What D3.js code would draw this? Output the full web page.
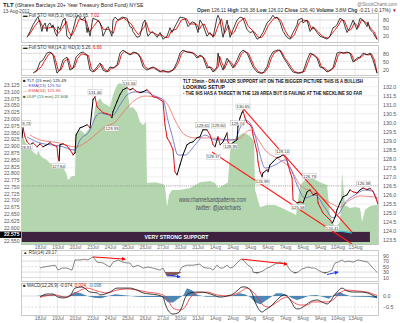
<!DOCTYPE html>
<html><head><meta charset="utf-8">
<script src="https://cdn.jsdelivr.net/npm/d3@7"></script>
<style>body{margin:0;background:#fff}svg{display:block}text{font-family:"Liberation Sans",Arial,sans-serif}</style>
</head><body><svg id="c" width="400" height="323"></svg>
<script>
// ---------- DATA ----------
const dayLabels = ["18Jul","19Jul","20Jul","23Jul","24Jul","25Jul","26Jul","27Jul","30Jul","31Jul","1Aug","2Aug","3Aug","6Aug","7Aug","8Aug","9Aug","10Aug","13Aug"];
const priceTicks = [132.0,131.5,131.0,130.5,130.0,129.5,129.0,128.5,128.0,127.5,127.0,126.5,126.0,125.5,125.0,124.5,124.0,123.5];
const uupTicks = [23.125,23.100,23.075,23.050,23.025,23.000,22.975,22.950,22.925,22.900,22.875,22.850,22.825,22.800,22.775,22.750,22.725,22.700,22.675,22.650,22.625,22.600,22.575,22.550];
const stoTicks = [80,50,20];
const rsiTicks = [90,70,50,30,10];
const macdTicks = [0.0,-0.5];

// TLT 15-min close path [day, price]
const tltPrice = [[-1.03,129.17],[-0.97,129.72],[-0.86,129.22],[-0.74,128.94],[-0.57,128.78],[-0.4,128.89],[-0.17,128.67],[0,128.83],[0.17,128.67],[0.4,128.78],[0.57,128.89],[0.74,128.78],[0.97,128.67],[1.03,128.11],[1.09,127.89],[1.14,128.78],[1.31,128.83],[1.54,128.72],[1.71,128.5],[1.83,128.33],[1.89,128.22],[2.0,128.33],[2.06,129.33],[2.29,129.72],[2.46,129.78],[2.69,129.89],[2.86,129.72],[3.03,131.28],[3.14,131.44],[3.26,130.89],[3.43,130.72],[3.6,130.56],[3.83,130.5],[4.0,130.44],[4.11,130.28],[4.17,130.61],[4.4,131.17],[4.57,131.56],[4.74,131.83],[4.97,131.94],[5.14,131.83],[5.31,131.9],[5.54,131.72],[5.71,131.67],[5.89,131.72],[6.11,131.83],[6.29,131.67],[6.46,131.44],[6.69,131.39],[6.86,131.28],[7.03,131.17],[7.14,129.89],[7.26,129.17],[7.43,128.89],[7.6,128.5],[7.71,127.28],[7.83,127.11],[8.0,127.67],[8.17,128.22],[8.4,128.78],[8.57,128.89],[8.74,128.94],[8.97,129.17],[9.14,129.22],[9.31,129.61],[9.54,129.61],[9.71,129.33],[9.89,128.78],[10.0,128.67],[10.17,129.22],[10.29,128.78],[10.46,128.94],[10.69,129.44],[10.74,128.94],[10.86,128.78],[11.03,128.89],[11.26,129.06],[11.31,129.78],[11.43,130.28],[11.54,130.56],[11.6,130.67],[11.71,130.28],[11.83,130.0],[12.0,129.89],[12.11,129.72],[12.17,129.33],[12.4,128.39],[12.46,127.83],[12.57,127.28],[12.69,127.0],[12.74,127.22],[12.97,127.39],[13.03,127.28],[13.14,127.67],[13.31,127.83],[13.54,128.06],[13.71,128.11],[13.89,128.22],[14.11,127.94],[14.17,127.67],[14.29,127.28],[14.4,126.94],[14.46,125.72],[14.69,125.56],[14.86,125.61],[15.03,125.56],[15.26,126.17],[15.43,126.28],[15.6,126.0],[15.83,126.11],[15.89,125.56],[16.0,125.33],[16.17,125.0],[16.4,124.78],[16.57,124.61],[16.69,124.44],[16.74,124.5],[16.86,124.78],[16.97,125.17],[17.14,125.56],[17.31,125.89],[17.54,126.0],[17.71,126.28],[17.89,126.17],[18.11,126.11],[18.29,126.28],[18.46,126.38],[18.69,126.3],[18.86,126.35],[19.03,126.2],[19.2,125.8],[19.31,125.49]];
const ema13 = [[-0.74,129.21],[0,128.88],[1.14,128.71],[2.0,128.49],[2.29,129.05],[2.86,129.6],[3.14,130.26],[3.43,130.54],[4.0,130.43],[4.17,130.43],[4.57,130.99],[4.97,131.54],[5.43,131.71],[6.0,131.71],[6.57,131.48],[7.03,131.26],[7.31,130.15],[7.54,129.32],[7.89,128.21],[8.29,128.21],[8.86,128.77],[9.43,129.32],[10.0,129.05],[10.57,129.05],[11.14,129.05],[11.43,129.71],[11.71,130.15],[12.0,129.99],[12.29,129.32],[12.57,128.21],[12.86,127.49],[13.43,127.66],[14.0,127.94],[14.29,127.55],[14.69,126.55],[15.14,125.83],[15.71,126.0],[16.29,125.28],[16.74,124.73],[17.14,125.06],[17.43,125.56],[18.0,126.0],[18.57,126.27],[19.0,126.2],[19.31,125.5]];
const ema34 = [[-0.57,129.32],[0,129.05],[1.14,128.88],[2.0,128.66],[2.57,128.88],[3.14,129.32],[3.71,129.77],[4.29,130.04],[4.86,130.71],[5.43,131.26],[6.0,131.48],[6.86,131.37],[7.31,130.99],[7.71,130.15],[8.29,129.32],[8.86,129.16],[9.71,129.16],[10.86,129.05],[11.43,129.16],[12.0,129.6],[12.4,129.16],[12.86,128.49],[13.71,127.94],[14.29,127.49],[14.86,126.55],[15.71,126.11],[16.57,125.56],[17.14,125.33],[17.71,125.72],[18.29,125.94],[19.31,125.86]];
// UUP 15-min (green area), left scale
const uup = [[-1.03,22.952],[-0.86,22.915],[-0.57,22.893],[-0.4,22.878],[-0.17,22.867],[-0.11,22.885],[0,22.867],[0.17,22.856],[0.4,22.849],[0.57,22.837],[0.86,22.826],[1.14,22.83],[1.31,22.823],[1.49,22.801],[1.6,22.775],[1.83,22.79],[2.0,22.79],[2.06,22.948],[2.29,22.959],[2.57,22.944],[2.74,22.959],[2.97,22.974],[3.03,22.985],[3.14,23.04],[3.26,23.062],[3.43,23.077],[3.6,23.059],[3.83,23.051],[4.0,23.044],[4.17,23.088],[4.4,23.125],[4.57,23.132],[4.74,23.125],[4.97,23.136],[5.03,23.088],[5.14,23.04],[5.31,23.044],[5.54,23.025],[5.71,22.989],[5.89,22.978],[6.06,22.989],[6.11,22.764],[6.57,22.767],[7.03,22.76],[7.14,22.753],[7.26,22.675],[7.37,22.72],[7.54,22.738],[8.0,22.738],[8.57,22.745],[9.14,22.767],[9.71,22.771],[10.0,22.764],[10.17,22.745],[10.4,22.753],[10.74,22.767],[10.86,22.878],[10.97,22.915],[11.26,22.933],[11.6,22.948],[11.83,22.944],[12.11,22.93],[12.23,22.915],[12.29,22.738],[12.57,22.675],[12.97,22.683],[13.43,22.683],[13.83,22.672],[14.29,22.657],[14.63,22.646],[14.86,22.756],[15.14,22.775],[15.54,22.782],[16.0,22.767],[16.4,22.756],[16.57,22.646],[16.86,22.598],[17.14,22.62],[17.26,22.804],[17.43,22.683],[17.71,22.672],[18.0,22.675],[18.29,22.672],[18.4,22.62],[18.57,22.664],[18.86,22.679],[19.14,22.683],[19.31,22.683]];
// price point labels [day, text, "h"=above high / "l"=below low]
const priceLabels = [[-0.92,"129.73","h"],[-0.85,"128.91","l"],[1.05,"127.84","l"],[3.14,"131.46","h"],[4.11,"129.93","l"],[5.1,"131.94","h"],[9.3,"129.61","h"],[10.2,"129.60","h"],[9.9,"128.37","l"],[11.3,"129.74","h"],[11.6,"130.65","h"],[10.9,"128.95","l"],[13.85,"128.14","h"],[12.7,"126.99","l"],[15.4,"126.79","h"],[14.75,"125.58","l"],[16.7,"124.41","l"],[18.5,"126.38","h"]];
// trend lines [day, price]
const upperTrend = [[11.54,130.87],[17.83,123.94]];
const lowerTrend = [[9.83,128.38],[17.83,123.28]];
const cyanLine = [[16.74,124.05],[17.83,123.89]];
const supportBand = [123.39,123.95];

// Full STO (5,3)
const sto5K = [[-0.74,15],[-0.57,37],[-0.4,62],[-0.17,87],[-0.11,91],[0,69],[0.11,37],[0.17,55],[0.29,69],[0.4,37],[0.46,62],[0.57,69],[0.69,51],[0.74,62],[0.86,33],[0.97,19],[1.03,55],[1.14,44],[1.31,80],[1.43,87],[1.54,19],[1.71,8],[1.89,44],[2.06,87],[2.17,98],[2.4,80],[2.57,91],[2.69,33],[2.74,51],[2.86,19],[2.97,69],[3.03,87],[3.26,80],[3.43,69],[3.54,44],[3.6,19],[3.83,51],[3.89,55],[4.0,37],[4.11,19],[4.17,80],[4.29,91],[4.46,80],[4.69,91],[4.97,87],[5.14,55],[5.26,51],[5.31,37],[5.54,15],[5.71,19],[5.89,69],[6.0,80],[6.11,33],[6.17,19],[6.4,37],[6.57,26],[6.69,15],[6.86,33],[7.03,8],[7.26,19],[7.43,51],[7.54,33],[7.71,55],[8.0,91],[8.29,87],[8.46,55],[8.69,73],[8.86,69],[9.03,33],[9.14,80],[9.31,62],[9.54,19],[9.71,33],[9.89,15],[10.11,87],[10.17,98],[10.29,80],[10.4,33],[10.46,15],[10.69,80],[10.86,15],[11.03,44],[11.26,80],[11.43,91],[11.6,87],[11.83,44],[12.0,33],[12.17,37],[12.4,8],[12.57,15],[12.74,33],[12.97,69],[13.14,80],[13.31,98],[13.43,87],[13.54,91],[13.71,73],[13.89,37],[14.11,15],[14.29,8],[14.46,33],[14.69,62],[14.74,80],[14.97,87],[15.03,69],[15.26,80],[15.43,37],[15.6,55],[15.83,33],[16.0,19],[16.17,15],[16.4,8],[16.57,19],[16.74,51],[16.86,55],[16.97,62],[17.14,87],[17.31,80],[17.54,33],[17.71,51],[17.89,80],[18.11,44],[18.29,87],[18.46,80],[18.69,55],[18.74,73],[18.86,44],[18.97,37],[19.03,33],[19.14,19],[19.26,7]];
const sto5D = [[-0.66,20],[-0.32,55],[-0.03,80],[0.19,50],[0.48,50],[0.77,55],[1.05,30],[1.22,45],[1.51,75],[1.62,40],[1.79,20],[1.97,40],[2.25,85],[2.65,75],[2.82,35],[3.05,55],[3.34,80],[3.62,45],[3.91,45],[4.19,30],[4.37,75],[4.77,88],[5.22,65],[5.39,45],[5.62,25],[5.97,55],[6.08,70],[6.25,35],[6.48,32],[6.77,22],[6.94,25],[7.11,15],[7.34,15],[7.51,40],[7.79,45],[8.08,80],[8.37,85],[8.54,65],[8.94,65],[9.11,45],[9.22,60],[9.39,65],[9.62,30],[9.97,20],[10.19,60],[10.37,85],[10.54,30],[10.77,60],[10.94,25],[11.11,35],[11.34,70],[11.68,88],[11.91,55],[12.25,35],[12.48,15],[12.65,14],[12.82,28],[13.05,60],[13.39,88],[13.62,88],[13.79,75],[13.97,45],[14.19,20],[14.37,12],[14.54,25],[14.82,70],[15.05,80],[15.34,75],[15.51,45],[15.68,50],[15.91,35],[16.08,22],[16.25,15],[16.48,12],[16.82,40],[17.05,60],[17.22,80],[17.39,78],[17.62,40],[17.79,45],[17.97,70],[18.19,52],[18.37,80],[18.54,75],[18.77,62],[18.94,45],[19.11,35],[19.26,7]];
// Full STO (14,3)
const sto14K = [[-0.4,6],[-0.17,17],[0,47],[0.17,55],[0.4,81],[0.57,85],[0.74,74],[0.97,6],[1.14,17],[1.31,55],[1.54,66],[1.71,17],[1.89,25],[2.06,66],[2.29,81],[2.46,85],[2.69,74],[2.86,17],[3.03,10],[3.26,29],[3.43,44],[3.6,17],[3.83,10],[4.0,29],[4.17,25],[4.4,36],[4.57,81],[4.74,92],[4.97,81],[5.14,74],[5.31,85],[5.54,81],[5.71,66],[5.89,29],[6.11,17],[6.29,25],[6.46,29],[6.69,17],[6.86,10],[7.03,17],[7.26,10],[7.43,10],[7.6,17],[7.83,47],[8.0,81],[8.17,92],[8.4,85],[8.57,85],[8.74,81],[8.97,62],[9.14,74],[9.31,66],[9.54,25],[9.71,29],[9.89,10],[10.11,29],[10.17,81],[10.29,44],[10.46,17],[10.69,62],[10.86,44],[11.03,25],[11.26,55],[11.43,81],[11.6,92],[11.83,81],[12.0,55],[12.17,29],[12.4,10],[12.57,6],[12.74,6],[12.97,29],[13.14,66],[13.31,85],[13.54,92],[13.71,92],[13.89,66],[14.11,44],[14.29,25],[14.46,10],[14.69,6],[14.86,6],[15.03,10],[15.26,55],[15.43,81],[15.6,74],[15.83,62],[16.0,29],[16.17,25],[16.4,10],[16.57,17],[16.74,25],[16.97,81],[17.14,85],[17.31,81],[17.54,85],[17.71,81],[17.89,47],[18.11,62],[18.29,66],[18.46,81],[18.69,74],[18.86,81],[19.03,55],[19.26,5]];
const sto14D = [[-0.3,8],[0.08,30],[0.25,50],[0.48,75],[0.65,83],[0.82,70],[1.05,15],[1.22,20],[1.39,50],[1.62,60],[1.79,22],[1.97,28],[2.14,60],[2.37,78],[2.77,72],[2.94,22],[3.11,12],[3.34,27],[3.51,40],[3.68,20],[3.91,12],[4.08,25],[4.25,26],[4.48,38],[4.65,75],[4.82,88],[5.05,80],[5.22,76],[5.39,82],[5.62,78],[5.79,62],[5.97,32],[6.19,20],[6.37,24],[6.54,27],[6.77,18],[6.94,11],[7.34,11],[7.68,20],[7.91,45],[8.08,78],[8.25,88],[8.48,84],[8.82,80],[9.05,65],[9.22,70],[9.39,62],[9.62,28],[9.79,28],[9.97,13],[10.19,30],[10.26,70],[10.37,48],[10.54,22],[10.77,55],[10.94,45],[11.11,28],[11.34,52],[11.51,78],[11.68,88],[11.91,80],[12.08,55],[12.25,30],[12.48,12],[12.65,7],[12.82,8],[13.05,28],[13.22,62],[13.39,82],[13.62,90],[13.79,88],[13.97,65],[14.19,45],[14.37,26],[14.54,12],[14.77,7],[15.11,12],[15.34,50],[15.51,78],[15.68,74],[15.91,60],[16.08,30],[16.25,25],[16.48,12],[16.65,18],[16.82,28],[17.05,75],[17.22,83],[17.39,80],[17.62,83],[17.79,78],[17.97,50],[18.19,60],[18.37,66],[18.54,78],[18.77,74],[18.94,78],[19.11,55],[19.26,7]];
// RSI(14)
const rsi = [[0,44.5],[0.17,48],[0.57,52],[0.86,55],[1.03,37],[1.26,44.5],[1.54,44.5],[1.83,37],[2.0,74],[2.29,74],[2.57,77],[2.74,74],[3.03,85],[3.26,66],[3.6,63],[4.0,48],[4.17,66],[4.46,74],[4.74,66],[4.97,63],[5.14,63],[5.31,48],[5.6,55],[5.89,44.5],[6.17,48],[6.46,44.5],[6.86,37],[7.03,44.5],[7.14,30],[7.26,15.5],[7.6,15.5],[7.89,23],[8.11,48],[8.4,55],[8.74,55],[9.14,59],[9.31,48],[9.54,44.5],[9.71,44.5],[9.89,37],[10.11,55],[10.29,44.5],[10.46,44.5],[10.69,55],[10.86,44.5],[11.03,48],[11.26,63],[11.43,74],[11.54,77],[11.71,66],[11.89,55],[12.11,44.5],[12.17,30],[12.4,26],[12.57,30],[12.74,34],[12.97,44.5],[13.14,48],[13.31,55],[13.54,63],[13.71,66],[13.89,63],[14.11,55],[14.29,37],[14.46,30],[14.57,26],[14.74,30],[14.97,41],[15.14,44.5],[15.31,48],[15.54,44.5],[15.71,44.5],[15.89,37],[16.11,30],[16.29,26],[16.46,30],[16.69,37],[16.74,48],[16.86,63],[17.03,66],[17.26,74],[17.43,66],[17.6,70],[17.89,66],[18.17,74],[18.46,70],[18.74,66],[18.97,48],[19.14,37],[19.26,29]];
const rsiRedArrows = [[[3.03,85],[4.86,77]],[[11.54,77],[14.11,59]]];
const rsiBlueArrows = [[[7.31,19],[8.0,12]],[[16.4,21],[17.03,30]]];
// MACD(12,26,9)
const macdLine = [[0,-0.05],[0.4,0.09],[0.74,0.09],[1.03,-0.05],[1.31,-0.09],[1.71,0],[2.0,0.36],[2.4,0.41],[2.86,0.18],[3.26,0.14],[3.43,0.05],[4.0,0.18],[4.4,0.36],[4.74,0.36],[5.14,0.36],[5.54,0.27],[5.89,0.14],[6.29,0.09],[6.69,0.05],[7.03,-0.05],[7.14,-0.32],[7.31,-0.64],[7.6,-0.82],[7.89,-0.77],[8.11,-0.5],[8.29,-0.09],[8.57,0.14],[8.97,0.18],[9.14,0.18],[9.54,0.14],[9.89,0.05],[10.29,-0.05],[10.69,0],[11.03,0.09],[11.31,0.27],[11.54,0.41],[11.71,0.41],[11.89,0.36],[12.11,0.14],[12.29,-0.27],[12.46,-0.55],[12.69,-0.73],[12.86,-0.64],[13.14,-0.5],[13.43,-0.27],[13.71,-0.05],[14.0,0.05],[14.17,-0.05],[14.4,-0.32],[14.57,-0.55],[14.74,-0.59],[15.03,-0.5],[15.43,-0.27],[15.83,-0.18],[16.11,-0.27],[16.4,-0.36],[16.57,-0.27],[16.74,-0.05],[16.97,0.18],[17.26,0.36],[17.54,0.23],[17.89,0.18],[18.29,0.18],[18.69,0.14],[18.97,0.05],[19.26,-0.07]];
const macdSignal = [[0,-0.05],[0.29,0],[0.86,0.05],[1.43,-0.05],[2.11,0.18],[2.69,0.36],[3.26,0.23],[3.83,0.14],[4.4,0.27],[4.97,0.32],[5.54,0.27],[6.11,0.18],[6.86,0.09],[7.26,-0.09],[7.6,-0.55],[8.0,-0.64],[8.29,-0.5],[8.57,-0.09],[8.97,0.14],[9.54,0.18],[10.11,0.05],[10.69,0],[11.43,0.18],[11.83,0.36],[12.17,0.18],[12.46,-0.09],[12.74,-0.41],[13.03,-0.5],[13.31,-0.41],[13.71,-0.18],[14.11,-0.05],[14.46,-0.27],[14.86,-0.41],[15.26,-0.41],[15.6,-0.27],[16.0,-0.27],[16.4,-0.27],[16.74,-0.18],[17.14,0.14],[17.54,0.27],[18.11,0.23],[18.69,0.18],[19.26,0.02]];
const macdHist = [[-0.2,0],[0.3,0.05],[0.8,0.03],[1.2,-0.05],[1.6,0],[2.0,0.18],[2.3,0.14],[2.7,0],[3.1,-0.08],[3.5,-0.1],[3.9,0],[4.3,0.08],[4.7,0.05],[5.2,0],[5.6,-0.03],[6.0,-0.05],[6.5,-0.04],[7.0,-0.05],[7.3,-0.28],[7.6,-0.3],[7.9,-0.12],[8.2,0.05],[8.4,0.35],[8.7,0.25],[9.0,0.05],[9.5,-0.03],[10.0,-0.03],[10.5,0],[11.0,0.02],[11.4,0.12],[11.7,0.08],[12.0,-0.05],[12.3,-0.3],[12.6,-0.38],[12.9,-0.2],[13.2,-0.05],[13.5,0.12],[13.8,0.12],[14.1,0.05],[14.4,-0.1],[14.7,-0.18],[15.0,-0.1],[15.4,0.02],[15.8,0.05],[16.2,-0.05],[16.5,-0.12],[16.8,0.05],[17.1,0.18],[17.4,0.08],[17.8,-0.02],[18.3,-0.03],[18.8,-0.04],[19.26,-0.1]];

// ---------- LAYOUT ----------
const L = 21, R = 379;
const svg = d3.select("#c");
const x = d3.scaleLinear().domain([-1.086, 19.37]).range([L, R]);
const P = {
  sto1: {top: 13, bottom: 43},
  sto2: {top: 45, bottom: 76},
  main: {top: 77, bottom: 245},
  rsi: {top: 250, bottom: 282},
  macd: {top: 283, bottom: 316}
};
const ySto1 = d3.scaleLinear().domain([0, 100]).range([41.3, 14.7]);
const ySto2 = d3.scaleLinear().domain([0, 100]).range([74.7, 48]);
const yP = d3.scaleLinear().domain([123.5, 132]).range([240, 86.7]);
const yU = d3.scaleLinear().domain([22.55, 23.125]).range([241, 85]);
const yR = d3.scaleLinear().domain([0, 100]).range([280.3, 252.8]);
const yM = d3.scaleLinear().domain([-1, 1]).range([318, 274]);

const GRID = "#e2e2e2", BORDER = "#bdbdbd";
function panel(name) {
  const p = P[name];
  svg.append("rect").attr("x", L).attr("y", p.top).attr("width", R - L).attr("height", p.bottom - p.top)
    .attr("fill", "#fff");
  svg.append("clipPath").attr("id", "cl-" + name).append("rect")
    .attr("x", L).attr("y", p.top).attr("width", R - L).attr("height", p.bottom - p.top);
  const g = svg.append("g").attr("clip-path", `url(#cl-${name})`);
  return g;
}
function border(name) {
  const p = P[name];
  svg.append("rect").attr("x", L + 0.5).attr("y", p.top + 0.5).attr("width", R - L - 1).attr("height", p.bottom - p.top - 1)
    .attr("fill", "none").attr("stroke", BORDER).attr("stroke-width", 0.8);
}
function vgrid(g, name) {
  const p = P[name];
  g.selectAll(null).data(dayLabels).join("line")
    .attr("x1", (d, i) => x(i)).attr("x2", (d, i) => x(i)).attr("y1", p.top).attr("y2", p.bottom)
    .attr("stroke", GRID).attr("stroke-width", 0.7);
}
function hgrid(g, ys, dash) {
  g.selectAll(null).data(ys).join("line")
    .attr("x1", L).attr("x2", R).attr("y1", d => d).attr("y2", d => d)
    .attr("stroke", "#cfcfcf").attr("stroke-width", 0.7).attr("stroke-dasharray", dash || null);
}
function rightAxis(scale, ticks, fmt) {
  const g = svg.append("g").attr("transform", `translate(${R},0)`)
    .call(d3.axisRight(scale).tickValues(ticks).tickFormat(fmt).tickSize(0).tickPadding(4));
  g.select(".domain").remove();
  g.selectAll("text").attr("font-size", 5.3).attr("fill", "#555").attr("font-family", "Liberation Sans, Arial");
  return g;
}
const line = (sx, sy) => d3.line().x(d => sx(d[0])).y(d => sy(d[1]));

// ---------- HEADER ----------
svg.append("text").attr("x", 3).attr("y", 7).attr("font-size", 5.2).attr("fill", "#222")
  .html('<tspan font-weight="bold" font-size="6">TLT</tspan> (iShares Barclays 20+ Year Treasury Bond Fund) NYSE');
svg.append("text").attr("x", 3).attr("y", 13).attr("font-size", 4.6).attr("fill", "#444").text("13-Aug-2012");
svg.append("text").attr("x", 397).attr("y", 6).attr("font-size", 4.6).attr("fill", "#777").attr("text-anchor", "end").text("@StockCharts.com");
svg.append("text").attr("x", 397).attr("y", 12).attr("font-size", 4.6).attr("fill", "#333").attr("text-anchor", "end")
  .attr("textLength", 200).attr("lengthAdjust", "spacingAndGlyphs")
  .html('<tspan font-weight="bold">Open</tspan> 126.11 <tspan font-weight="bold">High</tspan> 126.38 <tspan font-weight="bold">Low</tspan> 126.02 <tspan font-weight="bold">Close</tspan> 126.40 <tspan font-weight="bold">Volume</tspan> 3.8M <tspan font-weight="bold">Chg</tspan> -0.21 (-0.17%) <tspan fill="#c00">▼</tspan>');

// ---------- STO panels ----------
function stoPanel(name, ys, K, D, legend, v1, v2) {
  const g = panel(name);
  vgrid(g, name);
  hgrid(g, [ys(80), ys(20)]);
  hgrid(g, [ys(50)], "2,1.5");
  g.append("path").datum(D).attr("d", line(x, ys)).attr("fill", "none").attr("stroke", "#e8201a").attr("stroke-width", 1);
  g.append("path").datum(K).attr("d", line(x, ys)).attr("fill", "none").attr("stroke", "#111").attr("stroke-width", 0.8);
  border(name);
  rightAxis(ys, stoTicks, d3.format("d"));
  const t = svg.append("text").attr("x", L + 2).attr("y", P[name].top + 4.3).attr("font-size", 4.5).attr("fill", "#333");
  t.append("tspan").attr("fill", "#222").text("▬ ");
  t.append("tspan").text(legend + " " + v1 + ", ");
  t.append("tspan").attr("fill", "#e00").text(v2);
}
stoPanel("sto1", ySto1, sto5K, sto5D, "Full STO %K(5,3) %D(3)", "6.65", "7.02");
stoPanel("sto2", ySto2, sto14K, sto14D, "Full STO %K(14,3) %D(3)", "5.26", "6.66");

// ---------- MAIN ----------
const gm = panel("main");
gm.selectAll(null).data(priceTicks).join("line")
  .attr("x1", L).attr("x2", R).attr("y1", d => yP(d)).attr("y2", d => yP(d)).attr("stroke", "#e6e6e6").attr("stroke-width", 0.6);
vgrid(gm, "main");
// UUP area
gm.append("path").datum(uup)
  .attr("d", d3.area().x(d => x(d[0])).y0(P.main.bottom).y1(d => yU(d[1])))
  .attr("fill", "#b4d6ae").attr("stroke", "none");
// dotted reference line
gm.append("line").attr("x1", L).attr("x2", R).attr("y1", yP(126.5)).attr("y2", yP(126.5))
  .attr("stroke", "#777").attr("stroke-width", 0.6).attr("stroke-dasharray", "1,1.2");
// support band
gm.append("rect").attr("x", L).attr("width", x(18.85) - L)
  .attr("y", yP(supportBand[1])).attr("height", yP(supportBand[0]) - yP(supportBand[1]))
  .attr("fill", "#3e2240");
gm.append("text").attr("x", x(7.8)).attr("y", (yP(supportBand[0]) + yP(supportBand[1])) / 2 + 1.8)
  .attr("text-anchor", "middle").attr("font-size", 5.2).attr("font-weight", "bold").attr("fill", "#fff").text("VERY STRONG SUPPORT");
// watermark
gm.append("text").attr("x", 179).attr("y", 202).attr("font-family", "Liberation Serif, DejaVu Serif, serif")
  .attr("font-style", "italic").attr("font-size", 7).attr("fill", "#4a4a5a").attr("textLength", 67).attr("lengthAdjust", "spacingAndGlyphs")
  .text("www.channelsandpatterns.com");
gm.append("text").attr("x", 196).attr("y", 210).attr("font-family", "Liberation Serif, DejaVu Serif, serif")
  .attr("font-style", "italic").attr("font-size", 7).attr("fill", "#4a4a5a").attr("textLength", 45).attr("lengthAdjust", "spacingAndGlyphs")
  .text("twitter: @jackcharts");
// EMAs
gm.append("path").datum(ema34).attr("d", line(x, yP).curve(d3.curveMonotoneX)).attr("fill", "none").attr("stroke", "#f26a6a").attr("stroke-width", 0.8);
gm.append("path").datum(ema13).attr("d", line(x, yP).curve(d3.curveMonotoneX)).attr("fill", "none").attr("stroke", "#5a64c8").attr("stroke-width", 0.8);
// price segments: red falling, black rising
const segs = d3.pairs(tltPrice);
gm.selectAll(null).data(segs).join("line")
  .attr("x1", d => x(d[0][0])).attr("y1", d => yP(d[0][1])).attr("x2", d => x(d[1][0])).attr("y2", d => yP(d[1][1]))
  .attr("stroke", d => d[1][1] < d[0][1] ? "#e0101a" : "#000").attr("stroke-width", 1).attr("stroke-linecap", "round");
// trend lines
gm.append("path").datum(upperTrend).attr("d", line(x, yP)).attr("stroke", "#ff1a1a").attr("stroke-width", 1.1).attr("fill", "none");
gm.append("path").datum(lowerTrend).attr("d", line(x, yP)).attr("stroke", "#ff1a1a").attr("stroke-width", 1.1).attr("fill", "none");
gm.append("path").datum(cyanLine).attr("d", line(x, yP)).attr("stroke", "#22c8e0").attr("stroke-width", 1.1).attr("fill", "none");
// price labels
priceLabels.forEach(([t, txt, k]) => {
  const v = parseFloat(txt);
  const w = 14, h = 5;
  const cy = k === "h" ? yP(v) - 4.5 : yP(v) + 4.5;
  gm.append("rect").attr("x", x(t) - w / 2).attr("y", cy - h / 2).attr("width", w).attr("height", h)
    .attr("fill", "#fff").attr("stroke", "#aaa").attr("stroke-width", 0.4);
  gm.append("text").attr("x", x(t)).attr("y", cy + 1.6).attr("text-anchor", "middle").attr("font-size", 4.2).attr("fill", "#333").text(txt);
});
// legend box
const lg = svg.append("g");
lg.append("rect").attr("x", L + 1).attr("y", P.main.top + 1).attr("width", 48).attr("height", 21).attr("fill", "#fff").attr("opacity", 0.85);
const legendRows = [["■ TLT (15 min) 125.49", "#222"], ["— EMA(13) 125.50", "#4a54c0"], ["— EMA(34) 125.86", "#e84a4a"], ["■ UUP (15 min) 22.608", "#3d6a3a"]];
lg.selectAll(null).data(legendRows).join("text")
  .attr("x", L + 2).attr("y", (d, i) => P.main.top + 5 + i * 5.2).attr("font-size", 4.4).attr("fill", d => d[1]).text(d => d[0]);
// annotation text
const notes = ["TLT 15min - ON A MAJOR SUPPORT HIT ON THE BIGGER PICTURE THIS IS A BULLISH", "LOOKING SETUP", "- THE IHS HAS A TARGET IN THE 129 AREA BUT IS FAILING AT THE NECKLINE SO FAR"];
const noteLen = [180, 42, 179];
svg.selectAll(null).data(notes).join("text")
  .attr("x", 183).attr("y", (d, i) => 82.5 + i * 6.4).attr("font-size", 4.6).attr("font-weight", "bold").attr("fill", "#111")
  .attr("textLength", (d, i) => noteLen[i]).attr("lengthAdjust", "spacingAndGlyphs").text(d => d);
border("main");
rightAxis(yP, priceTicks, d3.format(".1f"));
const la = svg.append("g").attr("transform", `translate(${L},0)`)
  .call(d3.axisLeft(yU).tickValues(uupTicks).tickFormat(d3.format(".3f")).tickSize(0).tickPadding(1.5));
la.select(".domain").remove();
la.selectAll("text").attr("font-size", 5.1).attr("fill", "#555");
la.selectAll(".tick").filter(d => Math.abs(d - 22.575) < 1e-6).each(function () {
  const tk = d3.select(this);
  tk.insert("rect", "text").attr("x", -L).attr("y", -3.2).attr("width", L).attr("height", 6.4).attr("fill", "#000");
  tk.select("text").attr("fill", "#fff").attr("font-weight", "bold");
});

// date strips
function dateAxis(yy) {
  const g = svg.append("g").attr("transform", `translate(0,${yy})`)
    .call(d3.axisBottom(x).tickValues(d3.range(dayLabels.length)).tickFormat(i => dayLabels[i]).tickSize(0).tickPadding(0));
  g.select(".domain").remove();
  g.selectAll("text").attr("font-size", 4.8).attr("fill", "#666");
}
dateAxis(245.5);
dateAxis(316.5);

// ---------- RSI ----------
const gr = panel("rsi");
vgrid(gr, "rsi");
hgrid(gr, [yR(90), yR(10)]);
hgrid(gr, [yR(70), yR(30)]);
hgrid(gr, [yR(50)], "2,1.5");
gr.append("path").datum(rsi)
  .attr("d", d3.area().x(d => x(d[0])).y0(yR(30)).y1(d => yR(Math.min(30, d[1]))))
  .attr("fill", "#8a5a58");
gr.append("path").datum(rsi).attr("d", line(x, yR)).attr("fill", "none").attr("stroke", "#555").attr("stroke-width", 0.7);
svg.append("defs").html('<marker id="ar" viewBox="0 0 6 6" refX="5" refY="3" markerWidth="4" markerHeight="4" orient="auto"><path d="M0,0L6,3L0,6z" fill="#f00"/></marker><marker id="ab" viewBox="0 0 6 6" refX="5" refY="3" markerWidth="4" markerHeight="4" orient="auto"><path d="M0,0L6,3L0,6z" fill="#1a3cff"/></marker>');
rsiRedArrows.forEach(a => gr.append("path").datum(a).attr("d", line(x, yR)).attr("stroke", "#f00").attr("stroke-width", 1).attr("marker-end", "url(#ar)"));
rsiBlueArrows.forEach(a => gr.append("path").datum(a).attr("d", line(x, yR)).attr("stroke", "#1a3cff").attr("stroke-width", 1).attr("marker-end", "url(#ab)"));
border("rsi");
rightAxis(yR, rsiTicks, d3.format("d"));
svg.append("text").attr("x", L + 2).attr("y", P.rsi.top + 4.3).attr("font-size", 4.5).attr("fill", "#333").text("▲ RSI(14) 29.17");

// ---------- MACD ----------
const gmc = panel("macd");
vgrid(gmc, "macd");
hgrid(gmc, [yM(0)]);
hgrid(gmc, [yM(-0.5)], "2,1.5");
gmc.append("path").datum(macdHist)
  .attr("d", d3.area().x(d => x(d[0])).y0(yM(0)).y1(d => yM(d[1])))
  .attr("fill", "#2f73aa").attr("opacity", 0.85);
gmc.append("path").datum(macdSignal).attr("d", line(x, yM).curve(d3.curveMonotoneX)).attr("fill", "none").attr("stroke", "#f03030").attr("stroke-width", 0.8);
gmc.append("path").datum(macdLine).attr("d", line(x, yM).curve(d3.curveMonotoneX)).attr("fill", "none").attr("stroke", "#111").attr("stroke-width", 0.8);
border("macd");
rightAxis(yM, macdTicks, d3.format(".1f"));
const mt = svg.append("text").attr("x", L + 2).attr("y", P.macd.top + 4.3).attr("font-size", 4.5).attr("fill", "#333");
mt.append("tspan").text("■ MACD(12,26,9) -0.074, ");
mt.append("tspan").attr("fill", "#e00").text("0.024, ");
mt.append("tspan").attr("fill", "#2f73aa").text("-0.098");
</script></body></html>
